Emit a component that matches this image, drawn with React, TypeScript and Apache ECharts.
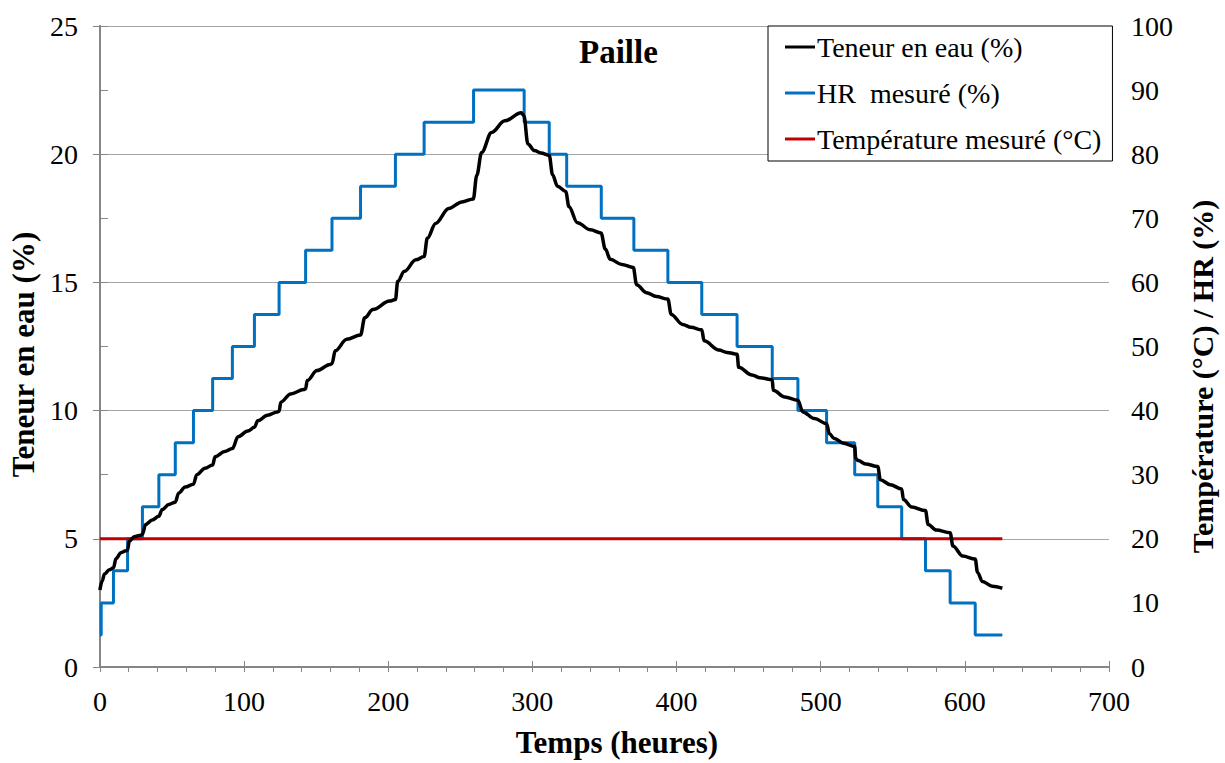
import React, { useEffect, useRef } from "react";
import * as echarts from "echarts";

const teneurTime = [
  0, 1.5, 3.2, 6.6, 9.4, 11.2, 14.6, 18.0, 19.2, 20.4, 23.8, 28.3, 29.5, 31.7, 36.3, 40.9,
  43.2, 47.8, 52.3, 54.6, 59.2, 64.9, 67.2, 72.9, 78.2, 79.9, 86.6, 91.9, 95.8, 102.6, 107.2,
  109.5, 116.3, 123.2, 124.3, 125.5, 132.3, 141.4, 142.7, 143.8, 150.6, 159.7, 161, 163.2, 171.2,
  180.8, 183.7, 189.4, 200.9, 205, 206.6, 211.2, 219.2, 224.9, 227.1, 232.9, 242, 251.1, 259,
  261.4, 264.8, 271.7, 280.9, 292.3, 294.1, 296.9, 301.4, 306, 311.7, 314, 317.4, 323.1, 325.4,
  331.2, 340.3, 347.6, 350.6, 354, 362, 370, 372.3, 379.1, 386, 394, 396.3, 404.3, 410, 417.5,
  419.1, 429.4, 435, 442, 443.1, 452.3, 458, 466.4, 467.1, 475.1, 484.2, 487.6, 495.7, 504.1,
  506, 509.4, 516, 523.6, 524.3, 526, 531.1, 539.6, 541.4, 548.3, 556.2, 557.4, 563.1, 572.7,
  574.5, 580.2, 589.8, 591.7, 598.5, 607.2, 608.8, 612.2, 619.1, 626,
];
const teneurValue = [
  3.0, 3.35, 3.63, 3.79, 3.87, 4.23, 4.46, 4.53, 4.56, 4.91, 5.08, 5.14, 5.18, 5.56, 5.73, 5.88,
  6.14, 6.34, 6.43, 6.78, 7.02, 7.13, 7.5, 7.75, 7.88, 8.2, 8.4, 8.52, 8.98, 9.2, 9.35,
  9.6, 9.82, 9.95, 9.97, 10.33, 10.65, 10.82, 10.85, 11.17, 11.56, 11.8, 11.83, 12.33, 12.78,
  12.95, 13.62, 13.94, 14.27, 14.33, 15.04, 15.43, 15.88, 16.01, 16.72, 17.3, 17.88, 18.14, 18.25,
  19.17, 20.07, 20.85, 21.3, 21.62, 21.5, 20.4, 20.14, 20.05, 19.95, 19.2, 18.75, 18.55, 17.95,
  17.33, 17.05, 16.93, 16.3, 15.9, 15.7, 15.58, 14.91, 14.6, 14.45, 14.35, 13.75, 13.36, 13.25, 13.15,
  12.72, 12.36, 12.27, 12.2, 11.69, 11.39, 11.28, 11.2, 10.79, 10.53, 10.4, 9.95, 9.69, 9.49,
  9.1, 8.91, 8.73, 8.6, 8.14, 8.05, 7.92, 7.82, 7.3, 7.11, 6.94, 6.53, 6.24, 6.1,
  5.56, 5.34, 5.24, 4.72, 4.33, 4.21, 3.69, 3.33, 3.15, 3.07,
];

const hrTime = [
  0, 0.9, 9.4, 19.2, 29.5, 40.9, 52.3, 64.9, 78.2, 91.9, 107.2, 124.3, 142.7, 161, 180.8, 205,
  224.9, 259.2, 294.3, 311.7, 323.8, 347.8, 370.4, 394, 417.5, 442, 466.4, 484.2, 504.1, 523.6,
  539.6, 556.2, 572.7, 589.8, 607.2, 626,
];
const hrValue = [
  5, 10, 15, 20, 25, 30, 35, 40, 45, 50, 55, 60, 65, 70, 75, 80,
  85, 90, 85, 80, 75, 70, 65, 60, 55, 50, 45, 40, 35, 30,
  25, 20, 15, 10, 5, 5,
];

const tempTime = [0, 626];
const tempValue = [20, 20];

const xTicks = { min: 0, max: 700, interval: 100 };
const yLeftTicks = { min: 0, max: 25, interval: 5 };
const yRightTicks = { min: 0, max: 100, interval: 10 };

const FONT = "Liberation Serif";
const AXIS_GRAY = "#868686";
const GRID_GRAY = "#A6A6A6";

export default function App() {
  const ref = useRef<HTMLDivElement>(null);

  useEffect(() => {
    if (!ref.current) return;
    document.documentElement.style.overflow = "hidden";
    document.body.style.margin = "0";
    document.body.style.overflow = "hidden";
    const chart = echarts.init(ref.current, null, { renderer: "svg", width: 1225, height: 763 });
    const zip = (a: number[], b: number[]) => a.map((t, i) => [t, b[i]]);
    const labelStyle = { fontFamily: FONT, fontSize: 28, color: "#000" };
    const nameStyle = { fontFamily: FONT, fontSize: 31, fontWeight: "bold" as const, color: "#000" };

    chart.setOption({
      animation: false,
      backgroundColor: "#fff",
      textStyle: { fontFamily: FONT },
      title: {
        text: "Paille",
        left: 579,
        top: 35,
        padding: 0,
        textStyle: { fontFamily: FONT, fontSize: 33, fontWeight: "bold", color: "#000" },
      },
      legend: {
        left: 768,
        top: 26,
        orient: "vertical",
        padding: [7, 11, 8, 17],
        itemGap: 18,
        itemWidth: 30,
        itemHeight: 3,
        icon: "rect",
        backgroundColor: "#fff",
        borderColor: "#000",
        borderWidth: 1,
        borderRadius: 0,
        textStyle: { fontFamily: FONT, fontSize: 28, color: "#000", padding: [0, 0, 0, -3] },
        data: ["Teneur en eau (%)", "HR  mesuré (%)", "Température mesuré (°C)"],
      },
      grid: { left: 98, right: 107, top: 26, bottom: 90, containLabel: false },
      xAxis: [
        {
          type: "value",
          ...xTicks,
          position: "bottom",
          name: "Temps (heures)",
          nameLocation: "middle",
          nameGap: 60,
          nameTextStyle: { ...nameStyle, padding: [0, 0, 0, 25] },
          axisLine: { show: true, lineStyle: { color: AXIS_GRAY, width: 2 } },
          axisTick: { show: true, inside: true, length: 6, lineStyle: { color: AXIS_GRAY, width: 1 } },
          axisLabel: { ...labelStyle, margin: 20 },
          splitLine: { show: false },
        },
        {
          type: "value",
          min: 0,
          max: 700,
          interval: 20,
          position: "bottom",
          offset: 0,
          axisLine: { show: false },
          axisTick: { show: true, inside: false, length: 5, lineStyle: { color: AXIS_GRAY, width: 1 } },
          axisLabel: { show: false },
          splitLine: { show: false },
        },
      ],
      yAxis: [
        {
          type: "value",
          ...yLeftTicks,
          position: "left",
          name: "Teneur en eau (%)",
          nameLocation: "middle",
          nameRotate: 90,
          nameGap: 53,
          nameTextStyle: { ...nameStyle, padding: [0, 16, 0, 0] },
          axisLine: { show: true, lineStyle: { color: AXIS_GRAY, width: 2 } },
          axisTick: { show: true, inside: false, length: 7, lineStyle: { color: AXIS_GRAY, width: 1 } },
          axisLabel: { ...labelStyle, margin: 22 },
          splitLine: { show: true, lineStyle: { color: GRID_GRAY, width: 1 } },
        },
        {
          type: "value",
          ...yRightTicks,
          position: "right",
          name: "Température (°C) / HR (%)",
          nameLocation: "middle",
          nameRotate: 90,
          nameGap: 78,
          nameTextStyle: { ...nameStyle, fontSize: 30, padding: [0, 60, 0, 0] },
          axisLine: { show: true, lineStyle: { color: AXIS_GRAY, width: 2 } },
          axisTick: { show: true, inside: false, length: 8, lineStyle: { color: AXIS_GRAY, width: 1 } },
          axisLabel: { ...labelStyle, margin: 22 },
          splitLine: { show: false },
        },
      ],
      series: [
        {
          name: "HR  mesuré (%)",
          type: "line",
          xAxisIndex: 0,
          yAxisIndex: 1,
          step: "end",
          data: zip(hrTime, hrValue),
          showSymbol: false,
          symbol: "none",
          lineStyle: { color: "#0070C0", width: 3 },
          itemStyle: { color: "#0070C0" },
          z: 2,
        },
        {
          name: "Température mesuré (°C)",
          type: "line",
          xAxisIndex: 0,
          yAxisIndex: 1,
          data: zip(tempTime, tempValue),
          showSymbol: false,
          symbol: "none",
          lineStyle: { color: "#C00000", width: 3 },
          itemStyle: { color: "#C00000" },
          z: 3,
        },
        {
          name: "Teneur en eau (%)",
          type: "line",
          xAxisIndex: 0,
          yAxisIndex: 0,
          data: zip(teneurTime, teneurValue),
          smooth: 0.35,
          smoothMonotone: "x",
          showSymbol: false,
          symbol: "none",
          lineStyle: { color: "#000", width: 3.5 },
          itemStyle: { color: "#000" },
          z: 4,
        },
      ],
    });
    return () => chart.dispose();
  }, []);

  return (
    <div
      ref={ref}
      style={{ width: 1225, height: 763, position: "fixed", left: 0, top: 0, overflow: "hidden" }}
    />
  );
}
